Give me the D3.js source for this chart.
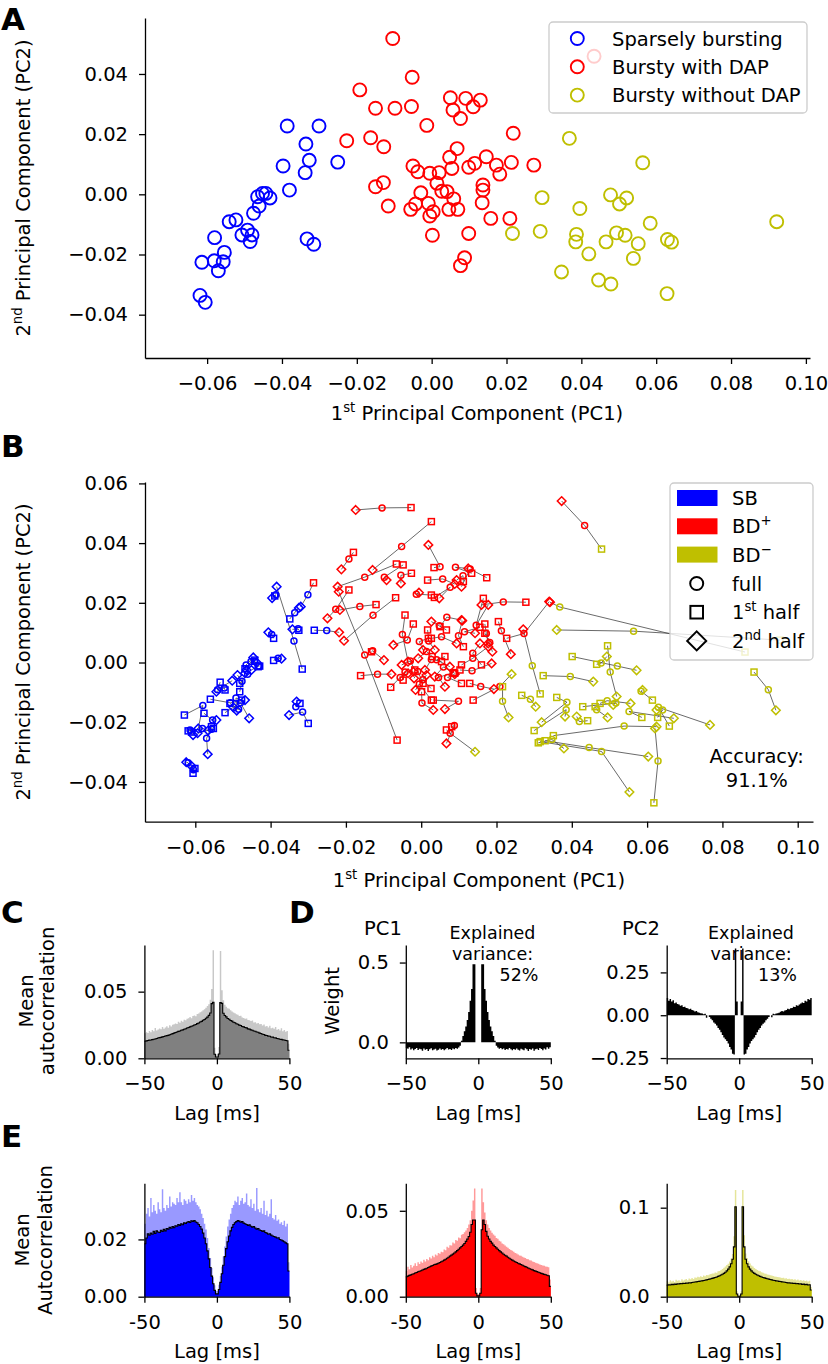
<!DOCTYPE html>
<html><head><meta charset="utf-8">
<script src="https://cdn.jsdelivr.net/npm/d3@7"></script>
<style>body{margin:0;background:#fff}</style>
</head><body>
<svg id="fig" width="828" height="1364" xmlns="http://www.w3.org/2000/svg"></svg>
<script>
// ================= DATA =================
// Panel A: PCA scores per class [PC1, PC2]
const classNames = ["Sparsely bursting", "Bursty with DAP", "Bursty without DAP"];
const pointsSB = [[-0.0386,0.0227],[-0.0301,0.0227],[-0.0336,0.0167],[-0.0397,0.0094],[-0.0327,0.0113],[-0.0338,0.0072],[-0.0251,0.0107],[-0.0380,0.0014],[-0.0465,-0.0008],[-0.0452,0.0003],[-0.0443,0.0003],[-0.0432,-0.0012],[-0.0461,-0.0039],[-0.0476,-0.0063],[-0.0541,-0.0091],[-0.0523,-0.0085],[-0.0507,-0.0135],[-0.0492,-0.0119],[-0.0480,-0.0135],[-0.0485,-0.0157],[-0.0580,-0.0144],[-0.0554,-0.0193],[-0.0557,-0.0224],[-0.0581,-0.0221],[-0.0570,-0.0254],[-0.0614,-0.0226],[-0.0619,-0.0336],[-0.0605,-0.0359],[-0.0333,-0.0148],[-0.0315,-0.0166]];
const pointsBDp = [[-0.0104,0.0518],[-0.0052,0.0389],[-0.0192,0.0347],[-0.0150,0.0286],[-0.0098,0.0286],[-0.0054,0.0292],[0.0050,0.0321],[0.0091,0.0319],[0.0130,0.0313],[0.0057,0.0280],[0.0111,0.0291],[0.0077,0.0252],[-0.0013,0.0229],[-0.0227,0.0178],[-0.0163,0.0188],[-0.0128,0.0158],[0.0068,0.0152],[0.0048,0.0123],[0.0054,0.0086],[-0.0050,0.0094],[-0.0037,0.0075],[-0.0005,0.0070],[0.0020,0.0072],[0.0014,0.0037],[0.0099,0.0090],[0.0115,0.0103],[0.0146,0.0125],[-0.0150,0.0025],[-0.0129,0.0039],[-0.0029,0.0005],[0.0027,0.0010],[0.0041,0.0009],[0.0059,-0.0015],[-0.0116,-0.0039],[-0.0056,-0.0050],[-0.0043,-0.0032],[-0.0009,-0.0030],[-0.0005,-0.0072],[0.0004,-0.0058],[0.0046,-0.0050],[0.0070,-0.0050],[0.0002,-0.0136],[0.0099,-0.0130],[0.0088,-0.0211],[0.0077,-0.0237],[0.0137,0.0031],[0.0137,0.0014],[0.0135,-0.0028],[0.0158,-0.0080],[0.0218,0.0203],[0.0173,0.0097],[0.0182,0.0067],[0.0213,0.0106],[0.0273,0.0097],[0.0209,-0.0080],[0.0434,0.0459]];
const pointsBDm = [[0.0368,0.0186],[0.0564,0.0105],[0.0295,-0.0011],[0.0216,-0.0130],[0.0290,-0.0123],[0.0396,-0.0047],[0.0478,-0.0002],[0.0502,-0.0032],[0.0521,-0.0012],[0.0584,-0.0096],[0.0387,-0.0133],[0.0385,-0.0158],[0.0466,-0.0158],[0.0494,-0.0128],[0.0517,-0.0136],[0.0552,-0.0164],[0.0630,-0.0150],[0.0641,-0.0159],[0.0420,-0.0198],[0.0539,-0.0213],[0.0347,-0.0258],[0.0446,-0.0285],[0.0479,-0.0298],[0.0629,-0.0330],[0.0922,-0.0091]];

// Panel B: half-recording projections [PC1, PC2, predictedClass] (0=SB,1=BD+,2=BD-), aligned with the full points above
const half1SB = [[-0.0389,0.0223,0],[-0.0286,0.0267,1],[-0.0349,0.0146,0],[-0.0392,0.0081,0],[-0.0325,0.0108,0],[-0.0316,-0.0022,0],[-0.0284,0.0108,0],[-0.0392,0.0007,0],[-0.0468,-0.0021,0],[-0.0442,0.0008,0],[-0.0429,-0.0012,0],[-0.0433,-0.0014,0],[-0.0482,-0.0070,0],[-0.0482,-0.0098,0],[-0.0534,-0.0066,0],[-0.0521,-0.0092,0],[-0.0560,-0.0123,0],[-0.0477,-0.0126,0],[-0.0521,-0.0168,0],[-0.0508,-0.0137,0],[-0.0629,-0.0176,0],[-0.0577,-0.0170,0],[-0.0552,-0.0221,0],[-0.0619,-0.0229,0],[-0.0557,-0.0215,0],[-0.0610,-0.0233,0],[-0.0606,-0.0371,0],[-0.0601,-0.0355,0],[-0.0322,-0.0137,0],[-0.0300,-0.0204,0]];
const half2SB = [[-0.0396,0.0216,0],[-0.0320,0.0187,0],[-0.0325,0.0183,0],[-0.0406,0.0101,0],[-0.0342,0.0111,0],[-0.0384,0.0254,0],[-0.0218,0.0101,1],[-0.0371,0.0013,0],[-0.0446,0.0017,0],[-0.0464,-0.0025,0],[-0.0437,0.0000,0],[-0.0451,-0.0025,0],[-0.0468,-0.0036,0],[-0.0488,-0.0042,0],[-0.0502,-0.0061,0],[-0.0544,-0.0098,0],[-0.0468,-0.0126,0],[-0.0490,-0.0161,0],[-0.0457,-0.0187,0],[-0.0499,-0.0150,0],[-0.0592,-0.0221,0],[-0.0544,-0.0193,0],[-0.0594,-0.0237,0],[-0.0566,-0.0228,0],[-0.0567,-0.0307,0],[-0.0606,-0.0243,0],[-0.0624,-0.0334,0],[-0.0610,-0.0347,0],[-0.0331,-0.0131,0],[-0.0351,-0.0176,0]];
const half1BDp = [[-0.0027,0.0519,1],[0.0027,0.0472,1],[-0.0180,0.0369,1],[-0.0066,0.0330,1],[-0.0048,0.0327,1],[-0.0026,0.0299,1],[0.0034,0.0318,1],[0.0134,0.0299,1],[0.0174,0.0284,1],[0.0017,0.0276,1],[0.0112,0.0271,1],[0.0035,0.0218,1],[0.0027,0.0226,1],[-0.0192,0.0243,1],[-0.0120,0.0194,1],[-0.0068,0.0217,1],[0.0050,0.0120,1],[0.0067,0.0109,1],[0.0027,0.0081,1],[-0.0043,0.0159,1],[-0.0021,0.0129,1],[0.0019,0.0081,1],[0.0017,0.0109,1],[0.0029,0.0020,1],[0.0112,0.0053,1],[0.0156,0.0118,1],[0.0165,0.0215,1],[-0.0064,-0.0260,1],[-0.0132,0.0036,1],[-0.0017,-0.0025,1],[0.0054,0.0003,1],[0.0063,0.0020,1],[0.0089,-0.0036,1],[-0.0161,-0.0044,1],[-0.0081,-0.0083,1],[-0.0048,-0.0059,1],[0.0005,-0.0070,1],[0.0027,-0.0126,1],[0.0026,-0.0087,1],[0.0085,-0.0034,1],[0.0107,-0.0070,1],[0.0001,-0.0098,1],[0.0032,-0.0126,1],[0.0081,-0.0215,1],[0.0067,-0.0226,1],[0.0160,-0.0008,1],[0.0107,-0.0008,1],[0.0103,-0.0025,1],[0.0129,-0.0070,1],[0.0278,0.0202,1],[0.0169,0.0129,1],[0.0169,0.0098,1],[0.0205,0.0137,1],[0.0227,0.0081,1],[0.0138,-0.0126,1],[0.0479,0.0380,2]];
const half2BDp = [[-0.0174,0.0511,1],[-0.0129,0.0310,1],[-0.0212,0.0312,1],[-0.0222,0.0254,1],[-0.0092,0.0276,1],[-0.0054,0.0265,1],[0.0019,0.0394,1],[0.0125,0.0315,1],[0.0107,0.0254,1],[0.0089,0.0263,1],[0.0094,0.0276,1],[0.0048,0.0215,1],[-0.0006,0.0234,1],[-0.0249,0.0148,1],[-0.0216,0.0176,1],[-0.0205,0.0073,1],[0.0107,0.0142,1],[0.0027,0.0137,1],[0.0094,0.0064,1],[-0.0035,0.0003,1],[-0.0074,0.0059,1],[0.0005,0.0042,1],[0.0036,0.0042,1],[-0.0008,0.0014,1],[0.0109,0.0140,1],[0.0143,0.0098,1],[0.0178,0.0193,1],[-0.0219,0.0237,1],[-0.0099,0.0008,1],[-0.0052,-0.0008,1],[0.0010,-0.0025,1],[0.0076,-0.0014,1],[0.0036,-0.0047,1],[-0.0079,-0.0039,1],[-0.0035,-0.0036,1],[-0.0021,-0.0031,1],[-0.0019,-0.0053,1],[-0.0015,-0.0092,1],[0.0014,-0.0042,1],[0.0063,-0.0081,1],[0.0089,-0.0039,1],[0.0032,-0.0159,1],[0.0063,-0.0156,1],[0.0067,-0.0271,1],[0.0143,-0.0299,2],[0.0156,0.0064,1],[0.0178,0.0053,1],[0.0187,-0.0003,1],[0.0193,-0.0089,1],[0.0160,0.0193,1],[0.0178,0.0064,1],[0.0189,0.0036,1],[0.0238,0.0028,1],[0.0340,0.0204,1],[0.0240,-0.0039,2],[0.0373,0.0541,1]];
const half1BDm = [[0.0860,0.0035,2],[0.0953,0.0075,2],[0.0316,-0.0105,2],[0.0216,-0.0081,2],[0.0267,-0.0110,2],[0.0324,-0.0044,2],[0.0466,-0.0006,2],[0.0495,0.0056,2],[0.0401,0.0020,2],[0.0614,-0.0126,2],[0.0360,-0.0117,2],[0.0300,-0.0228,2],[0.0462,-0.0148,2],[0.0475,-0.0137,2],[0.0429,-0.0148,2],[0.0586,-0.0184,2],[0.0659,-0.0213,2],[0.0628,-0.0184,2],[0.0442,-0.0195,2],[0.0351,-0.0245,2],[0.0311,-0.0269,2],[0.0329,-0.0262,2],[0.0316,-0.0265,2],[0.0618,-0.0470,2],[0.0884,-0.0032,2]];
const half2BDm = [[0.0342,0.0202,1],[0.0360,0.0109,2],[0.0271,0.0111,1],[0.0232,-0.0184,2],[0.0304,-0.0148,2],[0.0457,-0.0064,2],[0.0493,0.0020,2],[0.0519,-0.0114,2],[0.0572,-0.0026,2],[0.0588,-0.0092,2],[0.0320,-0.0200,2],[0.0382,-0.0181,2],[0.0495,-0.0184,2],[0.0556,-0.0137,2],[0.0510,-0.0142,2],[0.0671,-0.0187,2],[0.0767,-0.0209,2],[0.0625,-0.0159,2],[0.0413,-0.0181,2],[0.0625,-0.0215,2],[0.0379,-0.0288,2],[0.0603,-0.0315,2],[0.0553,-0.0434,2],[0.0621,-0.0221,2],[0.0942,-0.0160,2]];
const accuracyText = ["Accuracy:", "91.1%"];

// Panels C-E: histogram values for 1 ms bins starting at lag -50 ... 49 ms
const binStart = d3.range(-50, 50);
const cLight = [0.0188,0.0195,0.0190,0.0205,0.0196,0.0212,0.0203,0.0228,0.0209,0.0216,0.0224,0.0218,0.0235,0.0222,0.0231,0.0240,0.0229,0.0248,0.0238,0.0251,0.0255,0.0262,0.0258,0.0275,0.0266,0.0281,0.0274,0.0290,0.0285,0.0296,0.0301,0.0309,0.0300,0.0318,0.0322,0.0316,0.0333,0.0337,0.0345,0.0352,0.0361,0.0368,0.0380,0.0392,0.0405,0.0440,0.0520,0.0810,0.0080,0.0030,0.0030,0.0085,0.0805,0.0510,0.0435,0.0402,0.0386,0.0375,0.0372,0.0360,0.0351,0.0344,0.0338,0.0330,0.0327,0.0318,0.0320,0.0306,0.0302,0.0297,0.0299,0.0287,0.0286,0.0279,0.0283,0.0268,0.0271,0.0262,0.0265,0.0255,0.0258,0.0246,0.0253,0.0238,0.0242,0.0232,0.0245,0.0226,0.0230,0.0222,0.0235,0.0214,0.0220,0.0209,0.0226,0.0203,0.0212,0.0199,0.0205,0.0110];
const cDark = [0.0128,0.0131,0.0133,0.0136,0.0137,0.0140,0.0143,0.0145,0.0149,0.0152,0.0155,0.0157,0.0161,0.0163,0.0167,0.0170,0.0172,0.0177,0.0180,0.0185,0.0189,0.0194,0.0197,0.0202,0.0205,0.0210,0.0213,0.0218,0.0222,0.0227,0.0231,0.0236,0.0240,0.0244,0.0250,0.0254,0.0260,0.0265,0.0272,0.0277,0.0285,0.0291,0.0300,0.0309,0.0322,0.0340,0.0410,0.0420,0.0030,0.0010,0.0010,0.0032,0.0418,0.0412,0.0338,0.0321,0.0311,0.0299,0.0293,0.0284,0.0279,0.0271,0.0267,0.0259,0.0256,0.0249,0.0246,0.0239,0.0236,0.0231,0.0228,0.0221,0.0219,0.0213,0.0211,0.0205,0.0203,0.0197,0.0195,0.0189,0.0186,0.0180,0.0178,0.0172,0.0171,0.0166,0.0165,0.0160,0.0159,0.0154,0.0153,0.0148,0.0147,0.0143,0.0142,0.0138,0.0137,0.0134,0.0132,0.0060];
const pc1Weights = [-0.035,-0.040,-0.030,-0.045,-0.038,-0.050,-0.042,-0.036,-0.048,-0.040,-0.044,-0.052,-0.039,-0.046,-0.041,-0.055,-0.043,-0.037,-0.049,-0.045,-0.040,-0.051,-0.046,-0.038,-0.047,-0.042,-0.050,-0.044,-0.036,-0.045,-0.041,-0.048,-0.039,-0.043,-0.035,-0.040,-0.032,-0.022,0.010,0.040,0.070,0.100,0.140,0.190,0.260,0.335,0.490,0.490,0.000,0.000,0.000,0.000,0.490,0.490,0.335,0.260,0.190,0.140,0.100,0.070,0.040,0.010,-0.022,-0.032,-0.040,-0.036,-0.044,-0.039,-0.048,-0.041,-0.045,-0.036,-0.044,-0.050,-0.042,-0.047,-0.038,-0.046,-0.051,-0.040,-0.045,-0.049,-0.037,-0.043,-0.055,-0.041,-0.046,-0.039,-0.052,-0.044,-0.040,-0.048,-0.036,-0.042,-0.050,-0.038,-0.045,-0.030,-0.040,-0.030];
const pc2Weights = [0.100,0.085,0.095,0.080,0.088,0.070,0.075,0.065,0.062,0.055,0.058,0.048,0.050,0.042,0.040,0.035,0.038,0.030,0.028,0.022,0.024,0.018,0.015,0.012,0.010,0.005,0.008,-0.015,0.000,-0.010,-0.020,-0.030,-0.042,-0.050,-0.060,-0.075,-0.085,-0.100,-0.115,-0.130,-0.140,-0.150,-0.165,-0.185,-0.200,-0.225,-0.230,0.390,0.080,0.000,0.000,0.080,0.390,-0.230,-0.225,-0.200,-0.185,-0.165,-0.150,-0.140,-0.130,-0.115,-0.100,-0.085,-0.075,-0.060,-0.050,-0.042,-0.030,-0.020,-0.010,0.000,-0.012,0.008,0.005,0.010,0.012,0.015,0.020,0.024,0.022,0.028,0.030,0.038,0.035,0.040,0.042,0.050,0.048,0.058,0.055,0.062,0.068,0.075,0.072,0.085,0.080,0.095,0.090,0.100];
const explained = ["52%", "13%"];
const eSBLight = [0.0255,0.0290,0.0310,0.0280,0.0345,0.0295,0.0320,0.0300,0.0290,0.0330,0.0305,0.0295,0.0375,0.0310,0.0300,0.0320,0.0310,0.0350,0.0315,0.0330,0.0325,0.0320,0.0345,0.0330,0.0365,0.0330,0.0320,0.0340,0.0335,0.0325,0.0340,0.0330,0.0355,0.0335,0.0345,0.0330,0.0320,0.0315,0.0305,0.0290,0.0275,0.0255,0.0235,0.0205,0.0170,0.0135,0.0100,0.0068,0.0040,0.0020,0.0020,0.0042,0.0072,0.0105,0.0140,0.0175,0.0210,0.0245,0.0270,0.0290,0.0310,0.0320,0.0335,0.0330,0.0350,0.0320,0.0335,0.0345,0.0325,0.0330,0.0360,0.0320,0.0315,0.0340,0.0310,0.0325,0.0300,0.0380,0.0305,0.0295,0.0310,0.0290,0.0335,0.0285,0.0300,0.0280,0.0290,0.0340,0.0275,0.0270,0.0285,0.0265,0.0270,0.0255,0.0260,0.0250,0.0265,0.0245,0.0255,0.0120];
const eSBDark = [0.0185,0.0205,0.0220,0.0215,0.0222,0.0218,0.0228,0.0221,0.0230,0.0226,0.0224,0.0232,0.0228,0.0235,0.0230,0.0238,0.0236,0.0242,0.0239,0.0245,0.0241,0.0248,0.0246,0.0252,0.0249,0.0255,0.0251,0.0258,0.0256,0.0260,0.0262,0.0259,0.0265,0.0263,0.0266,0.0261,0.0258,0.0252,0.0245,0.0236,0.0222,0.0205,0.0185,0.0160,0.0132,0.0102,0.0072,0.0045,0.0022,0.0010,0.0010,0.0025,0.0050,0.0080,0.0110,0.0140,0.0168,0.0192,0.0212,0.0230,0.0242,0.0252,0.0258,0.0262,0.0266,0.0264,0.0260,0.0262,0.0257,0.0255,0.0252,0.0249,0.0251,0.0246,0.0243,0.0245,0.0240,0.0236,0.0238,0.0233,0.0231,0.0228,0.0230,0.0224,0.0222,0.0218,0.0220,0.0215,0.0212,0.0210,0.0208,0.0205,0.0206,0.0200,0.0198,0.0195,0.0192,0.0188,0.0185,0.0090];
const eBDpLight = [0.0150,0.0175,0.0160,0.0185,0.0170,0.0180,0.0195,0.0178,0.0200,0.0190,0.0205,0.0198,0.0215,0.0205,0.0220,0.0212,0.0230,0.0222,0.0238,0.0230,0.0245,0.0240,0.0255,0.0250,0.0262,0.0258,0.0275,0.0270,0.0290,0.0285,0.0300,0.0298,0.0315,0.0310,0.0330,0.0325,0.0345,0.0340,0.0360,0.0365,0.0375,0.0385,0.0400,0.0420,0.0445,0.0500,0.0560,0.0630,0.0050,0.0015,0.0015,0.0050,0.0630,0.0550,0.0490,0.0445,0.0420,0.0400,0.0385,0.0372,0.0362,0.0355,0.0342,0.0338,0.0325,0.0322,0.0310,0.0305,0.0298,0.0290,0.0285,0.0278,0.0272,0.0268,0.0262,0.0255,0.0252,0.0245,0.0240,0.0238,0.0232,0.0228,0.0225,0.0220,0.0218,0.0212,0.0210,0.0205,0.0202,0.0198,0.0195,0.0192,0.0188,0.0185,0.0182,0.0180,0.0176,0.0175,0.0172,0.0100];
const eBDpDark = [0.0116,0.0120,0.0124,0.0127,0.0131,0.0134,0.0138,0.0141,0.0145,0.0148,0.0151,0.0155,0.0159,0.0162,0.0166,0.0170,0.0174,0.0178,0.0182,0.0186,0.0188,0.0191,0.0195,0.0199,0.0203,0.0208,0.0213,0.0218,0.0224,0.0230,0.0236,0.0242,0.0248,0.0254,0.0261,0.0268,0.0276,0.0284,0.0292,0.0300,0.0310,0.0322,0.0335,0.0350,0.0375,0.0420,0.0446,0.0446,0.0020,0.0005,0.0005,0.0020,0.0390,0.0446,0.0420,0.0380,0.0352,0.0336,0.0322,0.0312,0.0300,0.0292,0.0284,0.0276,0.0268,0.0261,0.0254,0.0247,0.0241,0.0236,0.0230,0.0224,0.0218,0.0213,0.0208,0.0203,0.0199,0.0195,0.0191,0.0187,0.0183,0.0179,0.0175,0.0171,0.0167,0.0163,0.0160,0.0156,0.0152,0.0149,0.0146,0.0142,0.0139,0.0136,0.0133,0.0130,0.0128,0.0125,0.0122,0.0060];
const eBDmLight = [0.0175,0.0160,0.0185,0.0170,0.0180,0.0165,0.0190,0.0178,0.0185,0.0172,0.0195,0.0182,0.0190,0.0200,0.0185,0.0205,0.0195,0.0210,0.0200,0.0215,0.0212,0.0225,0.0218,0.0230,0.0222,0.0238,0.0230,0.0245,0.0240,0.0250,0.0255,0.0262,0.0260,0.0272,0.0270,0.0285,0.0290,0.0300,0.0310,0.0325,0.0340,0.0355,0.0370,0.0395,0.0430,0.0480,0.0680,0.1200,0.0060,0.0015,0.0015,0.0060,0.1200,0.0690,0.0485,0.0435,0.0398,0.0372,0.0350,0.0338,0.0322,0.0312,0.0300,0.0292,0.0285,0.0275,0.0268,0.0262,0.0258,0.0250,0.0246,0.0240,0.0238,0.0232,0.0228,0.0225,0.0220,0.0218,0.0215,0.0210,0.0212,0.0205,0.0208,0.0200,0.0203,0.0195,0.0200,0.0190,0.0196,0.0186,0.0192,0.0182,0.0188,0.0178,0.0185,0.0175,0.0182,0.0172,0.0180,0.0110];
const eBDmDark = [0.0130,0.0135,0.0132,0.0138,0.0136,0.0141,0.0139,0.0144,0.0142,0.0147,0.0145,0.0150,0.0148,0.0153,0.0152,0.0157,0.0155,0.0160,0.0162,0.0165,0.0167,0.0170,0.0172,0.0176,0.0178,0.0182,0.0185,0.0189,0.0193,0.0197,0.0201,0.0206,0.0211,0.0216,0.0222,0.0228,0.0235,0.0243,0.0252,0.0262,0.0275,0.0290,0.0310,0.0335,0.0370,0.0420,0.0560,0.1010,0.0030,0.0005,0.0005,0.0030,0.1010,0.0560,0.0420,0.0370,0.0335,0.0310,0.0290,0.0275,0.0262,0.0252,0.0243,0.0235,0.0228,0.0222,0.0216,0.0211,0.0206,0.0201,0.0197,0.0193,0.0189,0.0185,0.0182,0.0178,0.0176,0.0172,0.0170,0.0167,0.0165,0.0162,0.0160,0.0155,0.0157,0.0152,0.0153,0.0148,0.0150,0.0145,0.0147,0.0142,0.0144,0.0139,0.0141,0.0136,0.0138,0.0132,0.0135,0.0075];

// tick values
const ticksA_x = [-0.06,-0.04,-0.02,0,0.02,0.04,0.06,0.08,0.10];
const ticksA_y = [-0.04,-0.02,0,0.02,0.04];
const ticksB_y = [-0.04,-0.02,0,0.02,0.04,0.06];
const ticksLag = [-50,0,50];

// ================= STYLE =================
const FONT = "DejaVu Sans";
const FS = 19.5;
const COLORS = ["#0000ff", "#ff0000", "#bfbf00"];
const LIGHT = ["#9999ff", "#ff9999", "#e5e599"];
const svg = d3.select("#fig");

function axes(x, y, xt, xf, yt, yf) {
  const yb = y.range()[0], xl = x.range()[0];
  const gx = svg.append("g").attr("transform", `translate(0,${yb})`)
    .call(d3.axisBottom(x).tickValues(xt).tickFormat(xf).tickSize(6).tickSizeOuter(0).tickPadding(12));
  const gy = svg.append("g").attr("transform", `translate(${xl},0)`)
    .call(d3.axisLeft(y).tickValues(yt).tickFormat(yf).tickSize(6).tickSizeOuter(0).tickPadding(11));
  [gx, gy].forEach(g => {
    g.attr("font-size", FS).attr("font-family", FONT);
    g.selectAll("path,line").attr("stroke", "#000").attr("stroke-width", 1.3);
    g.selectAll("text").attr("fill", "#000");
  });
}
function label(x, y, parts, opts = {}) {
  const fs = opts.fs || FS;
  const t = svg.append("text").attr("font-family", FONT).attr("font-size", fs)
    .attr("text-anchor", opts.anchor || "middle").attr("fill", "#000")
    .attr("font-weight", opts.bold ? "bold" : null)
    .attr("transform", `translate(${x},${y})` + (opts.rot ? " rotate(-90)" : ""));
  if (typeof parts === "string") { t.text(parts); return t; }
  let shifted = false;
  parts.forEach(p => {
    const sup = Array.isArray(p);
    const s = t.append("tspan").text(sup ? p[0] : p);
    if (sup) { s.attr("font-size", fs * 0.68).attr("dy", shifted ? 0 : -8); shifted = true; }
    else { s.attr("dy", shifted ? 8 : 0); shifted = false; }
  });
  return t;
}
function marker(g, type, cx, cy, size, color, sw) {
  let el;
  if (type === "o") el = g.append("circle").attr("cx", cx).attr("cy", cy).attr("r", size);
  else if (type === "s") el = g.append("rect").attr("x", cx - size).attr("y", cy - size).attr("width", 2 * size).attr("height", 2 * size);
  else el = g.append("path").attr("d", `M${cx},${cy - size}L${cx + size},${cy}L${cx},${cy + size}L${cx - size},${cy}Z`);
  el.attr("fill", "none").attr("stroke", color).attr("stroke-width", sw);
  return el;
}

// ================= PANEL A =================
const xA = d3.scaleLinear().domain([-0.0766, 0.1011]).range([145, 810]);
const yA = d3.scaleLinear().domain([-0.0544, 0.0586]).range([358, 18]);
const f2 = d3.format(".2f");
axes(xA, yA, ticksA_x, f2, ticksA_y, f2);
const gA = svg.append("g");
[pointsSB, pointsBDp, pointsBDm].forEach((pts, c) => {
  pts.forEach(p => marker(gA, "o", xA(p[0]), yA(p[1]), 6.5, COLORS[c], 1.9));
});
// legend A
svg.append("rect").attr("x", 549).attr("y", 22).attr("width", 258).attr("height", 91).attr("rx", 4)
  .attr("fill", "#fff").attr("fill-opacity", 0.8).attr("stroke", "#cccccc").attr("stroke-width", 1.3);
classNames.forEach((n, i) => {
  const yy = 38.5 + i * 28.3;
  marker(svg, "o", 577.3, yy, 6.5, COLORS[i], 1.9);
  label(612, yy + 7, n, { anchor: "start" });
});
label(477, 420, ["1", ["st"], " Principal Component (PC1)"]);
label(30, 188, ["2", ["nd"], " Principal Component (PC2)"], { rot: true });
label(1, 30, "A", { anchor: "start", bold: true, fs: 31 });

// ================= PANEL B =================
const xB = d3.scaleLinear().domain([-0.07336, 0.10406]).range([145, 813]);
const yB = d3.scaleLinear().domain([-0.05333, 0.06047]).range([821.7, 482]);
axes(xB, yB, ticksA_x, f2, ticksB_y, f2);
const gBl = svg.append("g"), gBm = svg.append("g");
const groups = [[pointsSB, half1SB, half2SB, 0], [pointsBDp, half1BDp, half2BDp, 1], [pointsBDm, half1BDm, half2BDm, 2]];
const lineGen = d3.line().x(d => xB(d[0])).y(d => yB(d[1]));
groups.forEach(([full, h1, h2, c]) => {
  full.forEach((p, i) => {
    gBl.append("path").attr("d", lineGen([h1[i], p, h2[i]])).attr("fill", "none")
      .attr("stroke", "#444").attr("stroke-width", 0.8);
  });
});
groups.forEach(([full, h1, h2, c]) => {
  full.forEach((p, i) => {
    marker(gBm, "o", xB(p[0]), yB(p[1]), 3.0, COLORS[c], 1.5);
    marker(gBm, "s", xB(h1[i][0]), yB(h1[i][1]), 3.0, COLORS[h1[i][2]], 1.5);
    marker(gBm, "d", xB(h2[i][0]), yB(h2[i][1]), 4.3, COLORS[h2[i][2]], 1.5);
  });
});
// legend B
svg.append("rect").attr("x", 670).attr("y", 483).attr("width", 143).attr("height", 177).attr("rx", 4)
  .attr("fill", "#fff").attr("fill-opacity", 0.8).attr("stroke", "#cccccc").attr("stroke-width", 1.3);
const legB = [["SB"], ["BD", ["+"]], ["BD", ["\u2212"]]];
legB.forEach((parts, i) => {
  const yy = 498 + i * 28.3;
  svg.append("rect").attr("x", 677).attr("y", yy - 8).attr("width", 40.5).attr("height", 16).attr("fill", COLORS[i]);
  label(732, yy + 7, parts, { anchor: "start" });
});
const legM = [["o", ["full"]], ["s", ["1", ["st"], " half"]], ["d", ["2", ["nd"], " half"]]];
legM.forEach(([t, parts], i) => {
  const yy = 583.5 + i * 28.7;
  marker(svg, t, 696.7, yy, t === "o" ? 6.5 : t === "s" ? 6.3 : 9.5, "#000", 2);
  label(732, yy + 7, parts, { anchor: "start" });
});
label(756.7, 763, accuracyText[0]);
label(756.7, 787, accuracyText[1]);
label(479, 887, ["1", ["st"], " Principal Component (PC1)"]);
label(30, 652, ["2", ["nd"], " Principal Component (PC2)"], { rot: true });
label(1, 457, "B", { anchor: "start", bold: true, fs: 31 });

// ================= PANELS C, D, E =================
const cols = [144.4, 405.8, 666.7];
function lagScale(col) { return d3.scaleLinear().domain([-50, 50]).range([cols[col], cols[col] + 145]); }
function stepPts(vals) { const p = vals.map((v, i) => [binStart[i], v]); p.push([50, vals[vals.length - 1]]); return p; }
function area(x, y, vals, fill) {
  const a = d3.area().curve(d3.curveStepAfter).x(d => x(d[0])).y0(y(0)).y1(d => y(d[1]));
  svg.append("path").attr("d", a(stepPts(vals))).attr("fill", fill);
}
function stepLine(x, y, vals) {
  const l = d3.line().curve(d3.curveStepAfter).x(d => x(d[0])).y(d => y(d[1]));
  svg.append("path").attr("d", l(stepPts(vals))).attr("fill", "none").attr("stroke", "#000").attr("stroke-width", 1.1);
}
const fLag = d3.format("d");
const fHyph = d => String(d);

// C
{
  const x = lagScale(0), y = d3.scaleLinear().domain([0, 0.085]).range([1058.3, 945]);
  area(x, y, cLight, "#c8c8c8");
  area(x, y, cDark, "#808080");
  stepLine(x, y, cDark);
  axes(x, y, ticksLag, fLag, [0, 0.05], f2);
  label(217, 1120, "Lag [ms]");
  label(33, 1001, "Mean", { rot: true });
  label(54, 1001, "autocorrelation", { rot: true });
  label(1, 923, "C", { anchor: "start", bold: true, fs: 31 });
}
// D
{
  const x = lagScale(1), y = d3.scaleLinear().domain([-0.1, 0.61]).range([1058.3, 945]);
  area(x, y, pc1Weights, "#000");
  axes(x, y, ticksLag, fLag, [0, 0.5], d3.format(".1f"));
  label(478.3, 1120, "Lag [ms]");
  label(339, 1001, "Weight", { rot: true });
  label(383, 935, "PC1");
  label(492.5, 939, "Explained", { fs: 17.5 });
  label(492.5, 960, "variance:", { fs: 17.5 });
  label(538.5, 981, explained[0], { anchor: "end", fs: 17.5 });
  label(289, 923, "D", { anchor: "start", bold: true, fs: 31 });

  const x2 = lagScale(2), y2 = d3.scaleLinear().domain([-0.2515, 0.41]).range([1058.3, 945]);
  area(x2, y2, pc2Weights, "#000");
  axes(x2, y2, ticksLag, fLag, [-0.25, 0, 0.25], f2);
  label(739.2, 1120, "Lag [ms]");
  label(641, 935, "PC2");
  label(751, 939, "Explained", { fs: 17.5 });
  label(751, 960, "variance:", { fs: 17.5 });
  label(797, 981, explained[1], { anchor: "end", fs: 17.5 });
}
// E
{
  const sets = [[eSBLight, eSBDark, 0.0396, [0, 0.02], f2], [eBDpLight, eBDpDark, 0.066, [0, 0.05], f2], [eBDmLight, eBDmDark, 0.1274, [0, 0.1], d3.format(".1f")]];
  sets.forEach(([light, dark, top, yt, yf], i) => {
    const x = lagScale(i), y = d3.scaleLinear().domain([0, top]).range([1296.7, 1183.3]);
    area(x, y, light, LIGHT[i]);
    area(x, y, dark, COLORS[i]);
    stepLine(x, y, dark);
    axes(x, y, ticksLag, fHyph, yt, yf);
    label(cols[i] + 72.5, 1358, "Lag [ms]");
  });
  label(29, 1240, "Mean", { rot: true });
  label(52, 1240, "Autocorrelation", { rot: true });
  label(1, 1147, "E", { anchor: "start", bold: true, fs: 31 });
}
</script>
</body></html>
